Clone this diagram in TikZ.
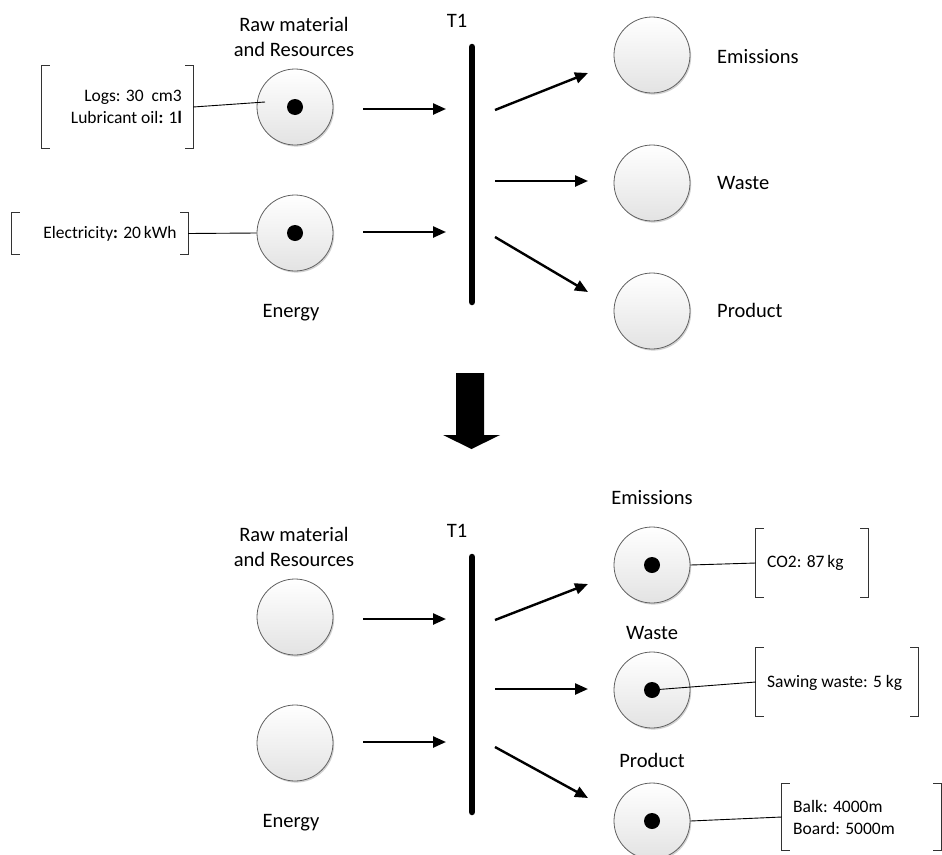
\documentclass[tikz,border=0pt]{standalone}
\usepackage{fontspec}
\setmainfont{Carlito}
\usetikzlibrary{arrows.meta,calc,shadows}

\tikzset{
  place/.style={circle, minimum size=76pt, inner sep=0pt, draw=black!62, line width=0.8pt,
    top color=white, bottom color=black!11,
    drop shadow={shadow xshift=1.2pt, shadow yshift=-1.6pt, opacity=0.18, fill=black}},
  token/.style={circle, fill=black, minimum size=16pt, inner sep=0pt},
  lbl/.style={font=\fontsize{20.5}{25}\selectfont, inner sep=0pt, align=center},
  note/.style={font=\fontsize{17.5}{22}\selectfont, inner sep=0pt},
  flow/.style={line width=2.4pt, -{Triangle[length=13pt,width=11pt]}},
  bar/.style={line width=6.5pt, line cap=round},
  brk/.style={draw=black!80, line width=0.9pt},
  link/.style={draw=black, line width=0.9pt},
  holder/.style={rectangle, inner sep=0pt, draw=none},
}

% square brackets drawn on the left and right side of a holder node
\newcommand{\brackets}[1]{%
  \draw[brk] ($(#1.north west)+(8,0)$) -- (#1.north west) -- (#1.south west) -- ($(#1.south west)+(8,0)$);
  \draw[brk] ($(#1.north east)+(-8,0)$) -- (#1.north east) -- (#1.south east) -- ($(#1.south east)+(-8,0)$);
}

\begin{document}
\begin{tikzpicture}[x=1pt,y=-1pt]
\useasboundingbox (0,0) rectangle (942,854);

%% ---------------- upper net: before firing ----------------
\node[lbl] (rawlbl1) at (294,37) {Raw material\\and Resources};
\node[place] (raw1) at (295,107) {};
\node[token] (rawtok1) at (raw1) {};
\node[place] (energy1) at (295,233) {};
\node[token] (entok1) at (energy1) {};
\node[lbl] (enlbl1) at (291,313) {Energy};

\node[lbl, anchor=base] (t1a) at (457,27) {T1};
\coordinate (bar1t) at (472,47);
\coordinate (bar1b) at (472,302);
\draw[bar] (bar1t) -- (bar1b);

\coordinate (in1s) at (363,109);  \coordinate (in1e) at (446,109);
\coordinate (in2s) at (363,232);  \coordinate (in2e) at (446,232);
\draw[flow] (in1s) -- (in1e);
\draw[flow] (in2s) -- (in2e);

\node[place] (emis1) at (652,55) {};
\node[place] (waste1) at (652,183) {};
\node[place] (prod1) at (652,311) {};
\node[lbl, anchor=west] (emislbl1) at (717,57) {Emissions};
\node[lbl, anchor=west] (wastelbl1) at (717,183) {Waste};
\node[lbl, anchor=west] (prodlbl1) at (717,310) {Product};

\coordinate (o1s) at (495,110);  \coordinate (o1e) at (588,73);
\coordinate (o2s) at (495,181);  \coordinate (o2e) at (588,181);
\coordinate (o3s) at (495,237);  \coordinate (o3e) at (588,292);
\draw[flow] (o1s) -- (o1e);
\draw[flow] (o2s) -- (o2e);
\draw[flow] (o3s) -- (o3e);

% resource annotations
\node[holder, minimum width=151pt, minimum height=82pt] (logsbox) at (117.5,107) {};
\brackets{logsbox}
\node[note, anchor=east, align=right] (logstxt) at (182,107) {Logs: 30\ \ cm3\\Lubricant oil\textbf{:} 1\textbf{l}};
\coordinate (raw1in) at (265,102);
\draw[link] (logsbox.east) -- (raw1in);

\node[holder, minimum width=176pt, minimum height=41pt] (elecbox) at (100,233.5) {};
\brackets{elecbox}
\node[note] (electxt) at (110,234) {Electricity\textbf{:} 20\,kWh};
\draw[link] (elecbox.east) -- (energy1.west);

%% ---------------- transition arrow ----------------
\fill[black] (456,373) -- (484,373) -- (484,435) -- (500,435) -- (471.5,449)
  -- (443,435) -- (456,435) -- cycle;

%% ---------------- lower net: after firing ----------------
\node[lbl] (rawlbl2) at (294,547) {Raw material\\and Resources};
\node[place] (raw2) at (295,617) {};
\node[place] (energy2) at (295,743) {};
\node[lbl] (enlbl2) at (291,823) {Energy};

\node[lbl, anchor=base] (t1b) at (457,537) {T1};
\coordinate (bar2t) at (472,557);
\coordinate (bar2b) at (472,812);
\draw[bar] (bar2t) -- (bar2b);

\coordinate (in3s) at (363,619);  \coordinate (in3e) at (446,619);
\coordinate (in4s) at (363,742);  \coordinate (in4e) at (446,742);
\draw[flow] (in3s) -- (in3e);
\draw[flow] (in4s) -- (in4e);

\node[place] (emis2) at (652,565) {};
\node[token] (emistok2) at (emis2) {};
\node[place] (waste2) at (652,690) {};
\node[token] (wastetok2) at (waste2) {};
\node[place] (prod2) at (652,821) {};
\node[token] (prodtok2) at (prod2) {};
\node[lbl] (emislbl2) at (652,498) {Emissions};
\node[lbl] (wastelbl2) at (652,633) {Waste};
\node[lbl] (prodlbl2) at (652,760) {Product};

\coordinate (o4s) at (495,620);  \coordinate (o4e) at (588,584);
\coordinate (o5s) at (495,689);  \coordinate (o5e) at (588,689);
\coordinate (o6s) at (495,747);  \coordinate (o6e) at (588,798);
\draw[flow] (o4s) -- (o4e);
\draw[flow] (o5s) -- (o5e);
\draw[flow] (o6s) -- (o6e);

% output annotations
\node[holder, minimum width=112pt, minimum height=68pt] (co2box) at (812,563) {};
\brackets{co2box}
\node[note, anchor=west] (co2txt) at (767,563) {CO2: 87\,kg};
\draw[link] (emis2.east) -- (co2box.west);

\node[holder, minimum width=162pt, minimum height=68pt] (sawbox) at (837,682) {};
\brackets{sawbox}
\node[note, anchor=west] (sawtxt) at (767,683) {Sawing waste: 5 kg};
\draw[link] (wastetok2.center) -- (sawbox.west);

\node[holder, minimum width=159pt, minimum height=66pt] (balkbox) at (861.5,817) {};
\brackets{balkbox}
\node[note, anchor=west, align=left] (balktxt) at (793,817) {Balk: 4000m\\Board: 5000m};
\draw[link] (prod2.east) -- (balkbox.west);

\end{tikzpicture}
\end{document}
